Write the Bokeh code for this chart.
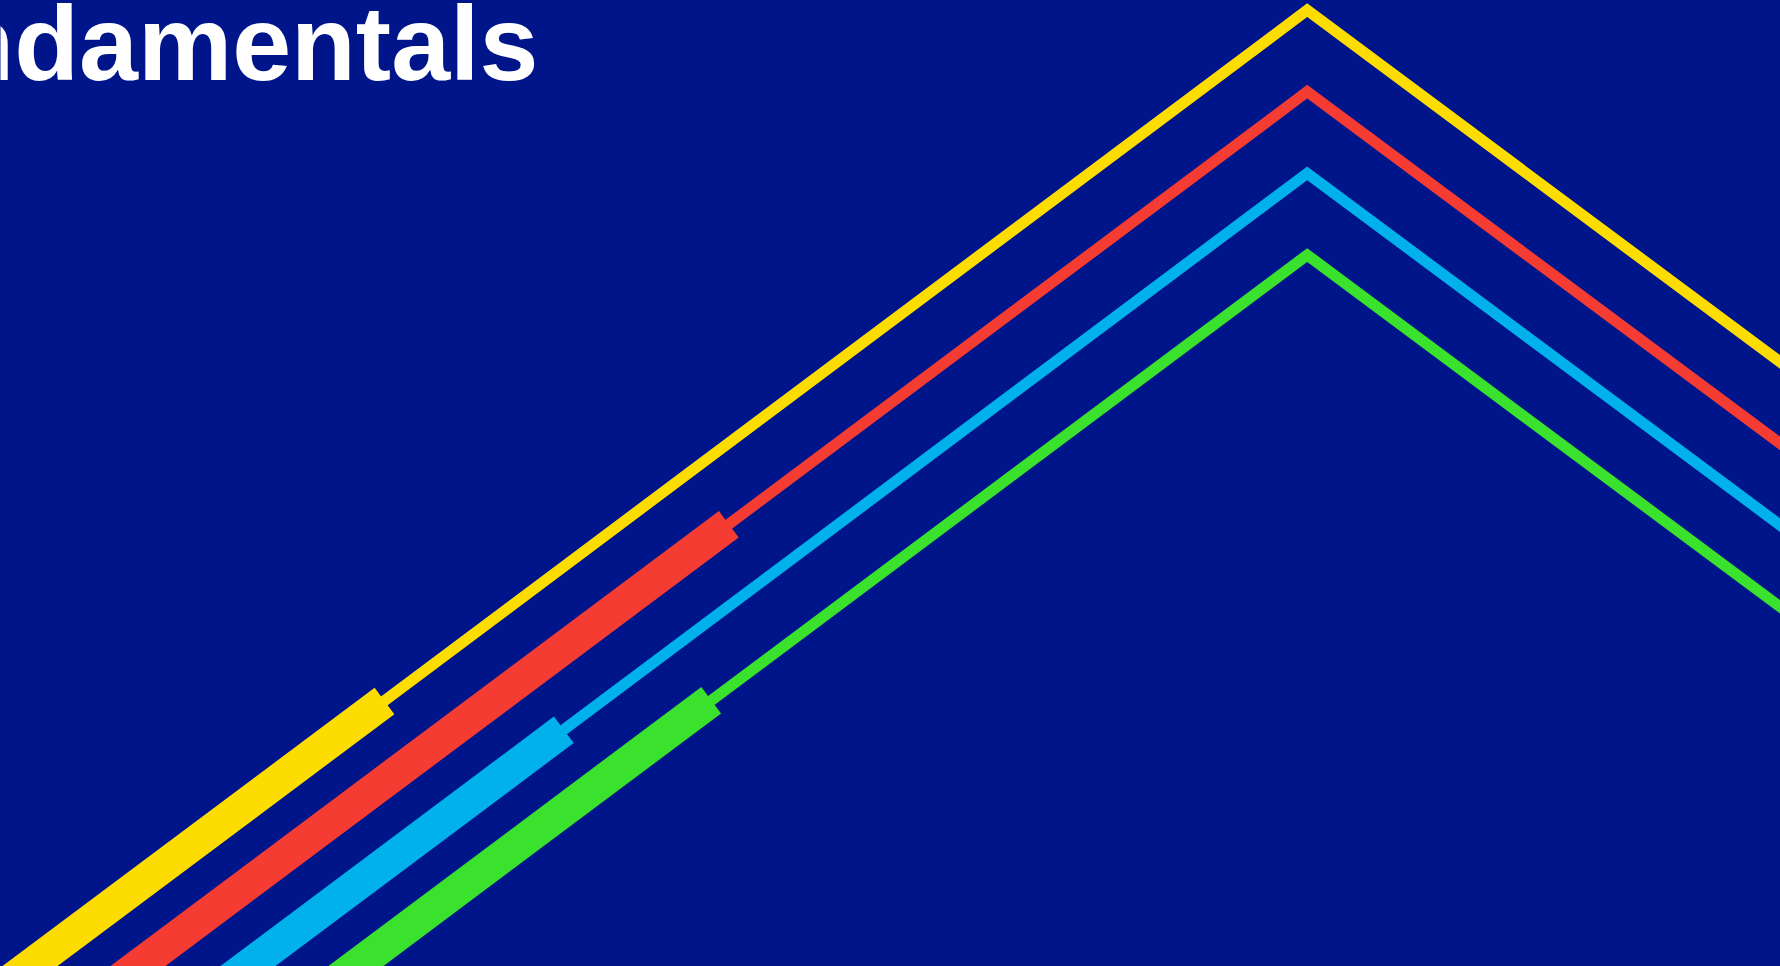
from bokeh.plotting import figure
from bokeh.models import Range1d, GlobalInlineStyleSheet
from bokeh.core.properties import value
from bokeh.embed import file_html
from bokeh.resources import INLINE

# ---- data (pixel-like coordinates, y grows downward) ----
series_names = ["yellow", "red", "blue", "green"]
series_colors = ["#FDDC00", "#F43C32", "#00B1EC", "#3AE22E"]

# start (off-canvas bottom-left), end of thick band, apex, end (off-canvas right)
start_x = [-30.0, 78.0, 188.0, 296.0]
start_y = [1010.0, 1010.0, 1010.0, 1010.0]
band_end_x = [384.0, 728.3, 563.3, 710.7]
band_end_y = [700.5, 523.7, 729.3, 699.7]
apex_x = [1306.7, 1306.7, 1306.7, 1306.7]
apex_y = [9.7, 91.2, 172.8, 254.5]
end_x = [1830.0, 1830.0, 1830.0, 1830.0]
end_y = [399.0, 480.5, 562.1, 643.8]

title_text = "Fundamentals"
title_x = [538.0]
title_y = [42.0]

BG = "#00158A"

p = figure(width=1780, height=966, output_backend="svg", toolbar_location=None,
           x_range=Range1d(0, 1780), y_range=Range1d(966, 0), min_border=0)
p.axis.visible = False
p.grid.visible = False
p.outline_line_color = None
p.background_fill_color = BG
p.border_fill_color = BG

for i, c in enumerate(series_colors):
    xs = [start_x[i], apex_x[i], end_x[i]]
    ys = [start_y[i], apex_y[i], end_y[i]]
    p.line(xs, ys, line_color=c, line_width=11, line_join="miter", line_cap="butt")
    p.line([start_x[i], band_end_x[i]], [start_y[i], band_end_y[i]],
           line_color=c, line_width=33, line_cap="butt")

p.text(x=title_x, y=title_y, text=[title_text], text_color="white",
       text_font=value("Liberation Sans"), text_font_style="bold",
       text_font_size="106px", text_align="right", text_baseline="alphabetic")

p.stylesheets = [GlobalInlineStyleSheet(
    css="html, body { margin: 0 !important; padding: 0; background: %s; overflow: hidden; }" % BG)]

open("out.html", "w").write(file_html(p, INLINE))
